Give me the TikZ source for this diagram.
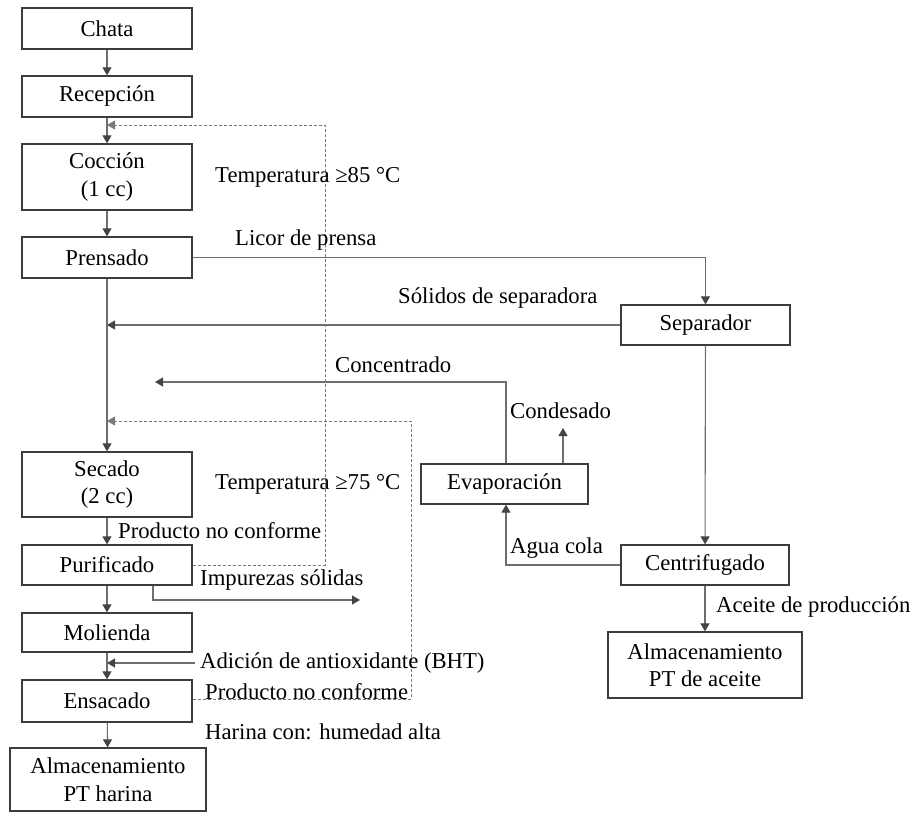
\documentclass[tikz,border=0pt]{standalone}
\usepackage{fontspec}
\setmainfont{Liberation Serif}
\usetikzlibrary{arrows.meta}
\definecolor{linegray}{HTML}{6E6E6E}
\definecolor{dashgray}{HTML}{7A7A7A}
\definecolor{boxgray}{HTML}{3C3C3C}
\definecolor{tipgray}{HTML}{444444}
\begin{document}
\begin{tikzpicture}[x=1pt,y=-1pt,
  every node/.style={font=\fontsize{22.7}{27.5}\selectfont, inner sep=0pt},
  procbox/.style={draw=boxgray, line width=1.3pt, align=center, fill=white},
  lbl/.style={anchor=west},
  flow/.style={draw=linegray, line width=1.1pt,
    -{Triangle[length=8pt,width=9pt,color=tipgray]}},
  dflow/.style={draw=dashgray, line width=0.9pt, dash pattern=on 3pt off 2pt,
    -{Triangle[length=8pt,width=9pt,color=dashgray]}}]
\useasboundingbox (0,0) rectangle (915,814);

% main process line (left column)
\node[procbox, minimum width=170pt, minimum height=41pt] (chata) at (107,28.5) {Chata};
\node[procbox, minimum width=170pt, minimum height=41pt] (recep) at (107,96.5) {Recepción};
\node[procbox, minimum width=170pt, minimum height=66pt] (cocc) at (107,177) {Cocción\\(1 cc)};
\node[procbox, minimum width=170pt, minimum height=41pt] (prens) at (107,257.5) {Prensado};
\node[procbox, minimum width=170pt, minimum height=65pt] (sec) at (107,484.5) {Secado\\(2 cc)};
\node[procbox, minimum width=170pt, minimum height=40pt] (pur) at (107,565) {Purificado};
\node[procbox, minimum width=170pt, minimum height=39pt] (mol) at (107,632.5) {Molienda};
\node[procbox, minimum width=170pt, minimum height=42pt] (ens) at (107,701) {Ensacado};
\node[procbox, minimum width=196pt, minimum height=63pt] (almh) at (108,779.5) {Almacenamiento\\PT harina};

% oil and stickwater branch
\node[procbox, minimum width=169pt, minimum height=40pt] (sep) at (705.5,325) {Separador};
\node[procbox, minimum width=167pt, minimum height=40pt] (evap) at (504.5,484) {Evaporación};
\node[procbox, minimum width=168pt, minimum height=40pt] (cent) at (705,565) {Centrifugado};
\node[procbox, minimum width=194pt, minimum height=66pt] (alma) at (705,665) {Almacenamiento\\PT de aceite};

% free ends of connectors
\coordinate (concend) at (155,382);
\coordinate (condtop) at (563,428);
\coordinate (impend) at (360,600);
\coordinate (bhtstart) at (195,663);
\coordinate (d1) at (325,125);
\coordinate (d2) at (411,421);

% solid flows
\draw[flow] (chata) -- (recep);
\draw[flow] (recep) -- (cocc);
\draw[flow] (cocc) -- (prens);
\draw[flow] (prens) -- (sec);
\draw[flow] (prens.east) -| (sep.north);
\draw[flow] (sep.west) -- (sep.west -| prens.south);
\draw[flow] (sep) -- (cent);
\draw[flow] (cent.west) -| ([xshift=1.5pt]evap.south);
\draw[flow] ([xshift=1.5pt]evap.north) |- (concend);
\draw[flow] (evap.north -| condtop) -- (condtop);
\draw[flow] (cent) -- (alma);
\draw[flow] (sec) -- (pur);
\draw[flow] (pur) -- (mol);
\draw[flow] ([xshift=46pt]pur.south) |- (impend);
\draw[flow] (mol) -- (ens);
\draw[flow] (bhtstart) -- (bhtstart -| mol.south);
\draw[flow] (ens) -- (almh);

% recirculation of non-conforming product
\draw[dflow] (pur.east) -| (d1) -- (d1 -| recep.south);
\draw[dflow] ([yshift=2pt]ens.east) -| (d2) -- (d2 -| sec.north);

% labels
\node[lbl] at (215,177) {Temperatura ≥85 °C};
\node[lbl] at (235,240) {Licor de prensa};
\node[lbl] at (398,298) {Sólidos de separadora};
\node[lbl] at (335,365) {Concentrado};
\node[lbl] at (510,411) {Condesado};
\node[lbl] at (215,484) {Temperatura ≥75 °C};
\node[lbl] at (118,531) {Producto no conforme};
\node[lbl] at (510,548) {Agua cola};
\node[lbl] at (200,580) {Impurezas sólidas};
\node[lbl] at (716,607) {Aceite de producción};
\node[lbl] at (200,663) {Adición de antioxidante (BHT)};
\node[lbl] at (205,692) {Producto no conforme};
\node[lbl] at (205,732) {Harina con: humedad alta};
\end{tikzpicture}
\end{document}
